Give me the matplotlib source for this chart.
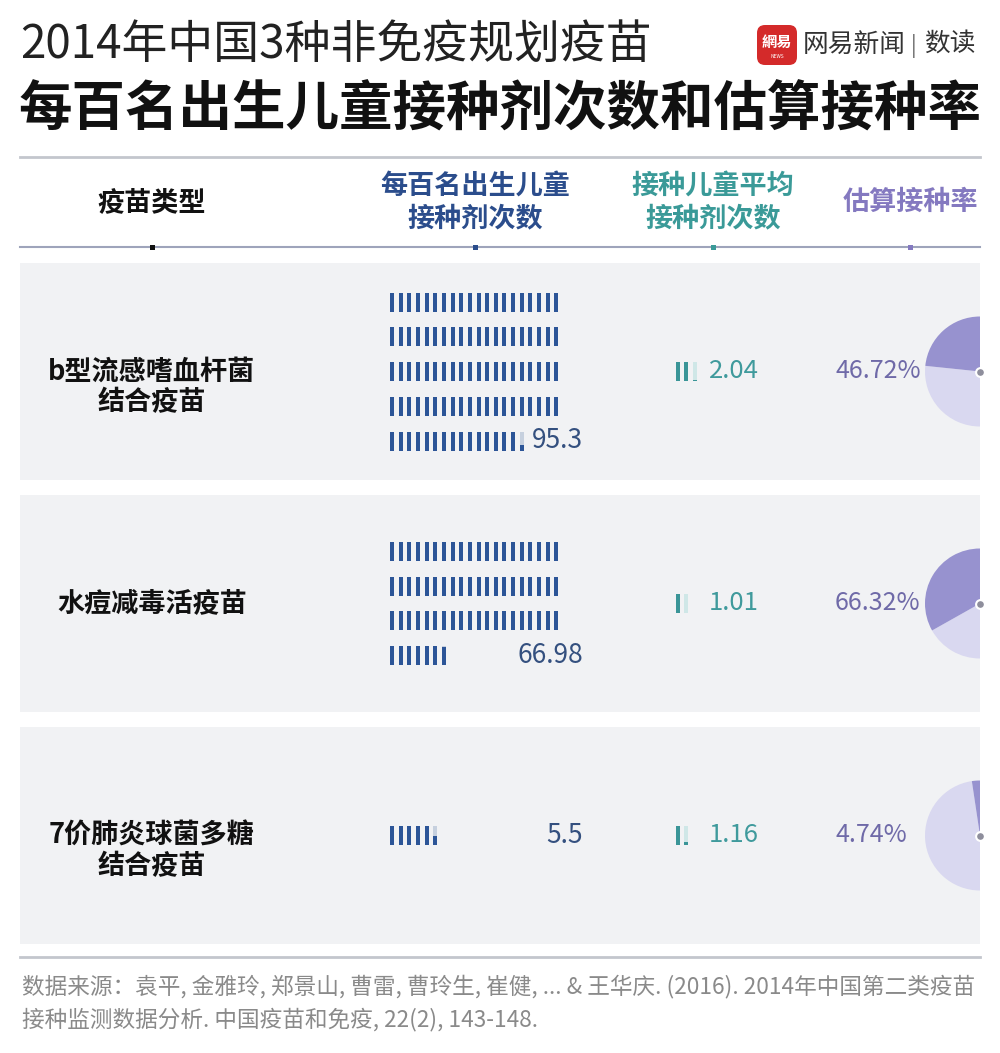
import matplotlib
matplotlib.use("Agg")
import matplotlib.pyplot as plt
from matplotlib.patches import Wedge, FancyBboxPatch, Rectangle
import math

plt.rcParams['font.family'] = ['Noto Sans CJK SC', 'DejaVu Sans']

# ---------------- data ----------------
title_line1 = "2014年中国3种非免疫规划疫苗"
title_line2 = "每百名出生儿童接种剂次数和估算接种率"
col_headers = ["疫苗类型", "每百名出生儿童\n接种剂次数", "接种儿童平均\n接种剂次数", "估算接种率"]
vaccines = ["b型流感嗜血杆菌\n结合疫苗", "水痘减毒活疫苗", "7价肺炎球菌多糖\n结合疫苗"]
doses_per_100 = [95.3, 66.98, 5.5]
dose_labels = ["95.3", "66.98", "5.5"]
avg_doses = [2.04, 1.01, 1.16]
avg_labels = ["2.04", "1.01", "1.16"]
rates = [46.72, 66.32, 4.74]
rate_labels = ["46.72%", "66.32%", "4.74%"]
source_lines = ["数据来源：袁平, 金雅玲, 郑景山, 曹雷, 曹玲生, 崔健, ... & 王华庆. (2016). 2014年中国第二类疫苗",
                "接种监测数据分析. 中国疫苗和免疫, 22(2), 143-148."]

# ---------------- style ----------------
W, H = 1000, 1053
BLUE = "#2c5597"
BLUE_LIGHT = "#c6d0de"
BLUE_TEXT = "#34507f"
TEAL = "#3a9597"
TEAL_LIGHT = "#cfe7e7"
TEAL_TEXT = "#3f9a9c"
PURPLE_TEXT = "#6f6aa8"
PIE_DARK = "#9792cf"
PIE_LIGHT = "#d9d8f0"
PANEL = "#f1f2f4"
col_x = [152, 475, 713, 910]
col_colors = ["#111111", "#2b4d8c", "#3a9a98", "#8479c0"]

fig = plt.figure(figsize=(W / 100, H / 100), dpi=100)
ax = fig.add_axes([0, 0, 1, 1])
ax.set_xlim(0, W)
ax.set_ylim(H, 0)
ax.axis("off")

# titles
ax.text(20, 45, title_line1, fontsize=33, color="#222222", va="center", ha="left")
ax.text(18, 110, title_line2, fontsize=38.5, color="#111111", va="center", ha="left", fontweight="bold")

# logo
ax.add_patch(FancyBboxPatch((757, 25), 40, 40, boxstyle="round,pad=0,rounding_size=8",
                            fc="#d42a2a", ec="none"))
ax.text(777, 42, "網易", fontsize=11, color="white", ha="center", va="center", fontweight="bold")
ax.text(777, 57, "NEWS", fontsize=3.5, color="white", ha="center", va="center")
ax.text(803, 45, "网易新闻", fontsize=18.5, color="#333333", ha="left", va="center")
ax.text(914, 46, "|", fontsize=15, color="#666666", ha="center", va="center")
ax.text(924, 45, "数读", fontsize=18.5, color="#333333", ha="left", va="center")

# header lines
ax.plot([20, 980], [157, 157], color="#c3c6cd", lw=2)
ax.plot([20, 980], [247, 247], color="#9ea4bb", lw=1.5)
for x, c, h in zip(col_x, col_colors, col_headers):
    ax.add_patch(Rectangle((x - 2.5, 244.5), 5, 5, fc=c, ec="none", zorder=3))
    lines = h.split("\n")
    if len(lines) == 1:
        ax.text(x, 202, h, fontsize=19.5, color=c, ha="center", va="center", fontweight="bold")
    else:
        for j, ln in enumerate(lines):
            ax.text(x, 186 + 32 * j, ln, fontsize=19.5, color=c, ha="center", va="center", fontweight="bold")

# rows
row_top0, row_h, row_gap = 263, 217, 15
tick_w, tick_h = 4.0, 19
per_row = 20
dx = 8.65
dy = 34.75
x0_blue = 392
x0_teal = 677.5

for i in range(len(vaccines)):
    top = row_top0 + i * (row_h + row_gap)
    yc = top + row_h / 2
    ax.add_patch(Rectangle((20, top), 960, row_h, fc=PANEL, ec="none", zorder=0))

    # vaccine label: first line at row centre
    for j, ln in enumerate(vaccines[i].split("\n")):
        ax.text(152, yc + 31 * j, ln, fontsize=19.5, color="#111111", ha="center", va="center",
                fontweight="bold")

    # doses per 100 tick grid
    v = doses_per_100[i]
    n_full = int(math.floor(v))
    frac = v - n_full
    n_total = n_full + (1 if frac > 1e-9 else 0)
    n_rows = int(math.ceil(n_total / per_row))
    y_first = yc - (n_rows - 1) * dy / 2
    for k in range(n_total):
        r, c = divmod(k, per_row)
        xc = x0_blue + c * dx
        ty = y_first + r * dy
        if k < n_full:
            ax.add_patch(Rectangle((xc - tick_w / 2, ty - tick_h / 2), tick_w, tick_h, fc=BLUE, ec="none"))
        else:
            ax.add_patch(Rectangle((xc - tick_w / 2, ty - tick_h / 2), tick_w, tick_h, fc=BLUE_LIGHT, ec="none"))
            ax.add_patch(Rectangle((xc - tick_w / 2, ty + tick_h / 2 - frac * tick_h), tick_w,
                                   frac * tick_h, fc=BLUE, ec="none"))
    y_last = y_first + (n_rows - 1) * dy
    ax.text(583, y_last, dose_labels[i], fontsize=19, color=BLUE_TEXT, ha="right", va="center")

    # average doses ticks
    a = avg_doses[i]
    a_full = int(math.floor(a))
    a_frac = a - a_full
    a_total = a_full + (1 if a_frac > 1e-9 else 0)
    for k in range(a_total):
        xc = x0_teal + k * dx
        if k < a_full:
            ax.add_patch(Rectangle((xc - tick_w / 2, yc - tick_h / 2), tick_w, tick_h, fc=TEAL, ec="none"))
        else:
            ax.add_patch(Rectangle((xc - tick_w / 2, yc - tick_h / 2), tick_w, tick_h, fc=TEAL_LIGHT, ec="none"))
            ax.add_patch(Rectangle((xc - tick_w / 2, yc + tick_h / 2 - a_frac * tick_h), tick_w,
                                   a_frac * tick_h, fc=TEAL, ec="none"))
    ax.text(709, yc, avg_labels[i], fontsize=18.5, color=TEAL_TEXT, ha="left", va="center")

    # rate text and half pie
    ax.text(835, yc, rate_labels[i], fontsize=18, color=PURPLE_TEXT, ha="left", va="center")
    rr = rates[i] / 100.0
    cx, R = 980, 55
    # inverted y-axis: screen angle = -data angle
    ax.add_patch(Wedge((cx, yc), R, 90, 270 - rr * 180, fc=PIE_LIGHT, ec="none", zorder=2))
    ax.add_patch(Wedge((cx, yc), R, 270 - rr * 180, 270, fc=PIE_DARK, ec="none", zorder=2))
    ax.scatter([cx], [yc], s=40, color="#8e8e9c", edgecolor="white", linewidth=1.5, zorder=4)

# bottom line and source
ax.plot([20, 980], [957, 957], color="#c3c6cd", lw=2)
for j, ln in enumerate(source_lines):
    ax.text(22, 986 + 33 * j, ln, fontsize=16.3, color="#8a8a8a", ha="left", va="center")

fig.savefig("out.png", dpi=100)
